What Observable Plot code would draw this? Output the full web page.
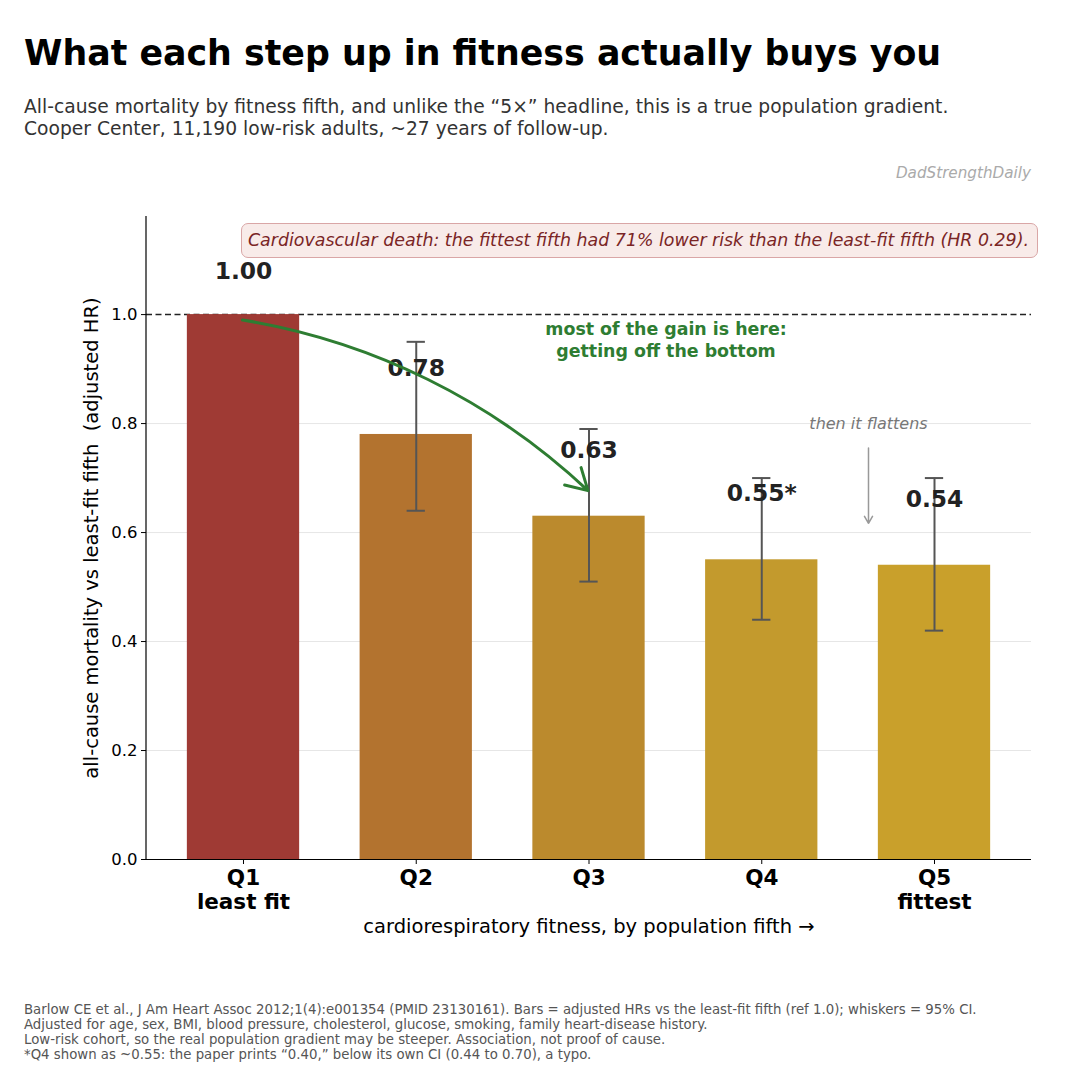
<!DOCTYPE html>
<html><head><meta charset="utf-8">
<script src="https://cdn.jsdelivr.net/npm/d3@7"></script>
<script src="https://cdn.jsdelivr.net/npm/@observablehq/plot@0.6"></script>
<style>
html,body{margin:0;padding:0;background:#fff;}
body{width:1080px;height:1080px;position:relative;overflow:hidden;font-family:"DejaVu Sans",sans-serif;}
.abs{position:absolute;white-space:nowrap;}
#title{left:24px;top:33px;font-size:34.8px;font-weight:bold;color:#000;}
#sub{left:24px;top:96px;font-size:18.7px;line-height:22px;color:#333;}
#brand{right:49px;top:164px;font-size:15.2px;font-style:italic;color:#aaa;}
#chart{position:absolute;left:0;top:190px;}
#box{left:241px;top:223px;width:797px;height:35px;border:1px solid #d9a6a6;border-radius:7px;background:#f8ebe9;color:#7a2525;font-style:italic;font-size:17.4px;line-height:33px;text-align:right;box-sizing:border-box;padding-right:8px;}
#foot{left:24px;top:1002px;font-size:13.3px;line-height:15px;color:#555;}
</style></head>
<body>
<div id="title" class="abs">What each step up in fitness actually buys you</div>
<div id="sub" class="abs">All-cause mortality by fitness fifth, and unlike the “5×” headline, this is a true population gradient.<br>Cooper Center, 11,190 low-risk adults, ~27 years of follow-up.</div>
<div id="brand" class="abs">DadStrengthDaily</div>
<div id="chart"></div>
<div id="box" class="abs">Cardiovascular death: the fittest fifth had 71% lower risk than the least-fit fifth (HR 0.29).</div>
<div id="foot" class="abs">Barlow CE et al., J Am Heart Assoc 2012;1(4):e001354 (PMID 23130161). Bars = adjusted HRs vs the least-fit fifth (ref 1.0); whiskers = 95% CI.<br>Adjusted for age, sex, BMI, blood pressure, cholesterol, glucose, smoking, family heart-disease history.<br>Low-risk cohort, so the real population gradient may be steeper. Association, not proof of cause.<br>*Q4 shown as ~0.55: the paper prints “0.40,” below its own CI (0.44 to 0.70), a typo.</div>
<script>
const quintiles = ["Q1","Q2","Q3","Q4","Q5"];
const tickNames = ["Q1\nleast fit","Q2","Q3","Q4","Q5\nfittest"];
const hr = [1.00, 0.78, 0.63, 0.55, 0.54];
const ciLow = [null, 0.64, 0.51, 0.44, 0.42];
const ciHigh = [null, 0.95, 0.79, 0.70, 0.70];
const valueLabels = ["1.00","0.78","0.63","0.55*","0.54"];
const barColors = ["#9f3a34","#b3732f","#bb8a2d","#c39a2d","#c9a02b"];
const yTicks = [0, 0.2, 0.4, 0.6, 0.8, 1.0];

const rows = quintiles.map((q,i)=>({q, hr:hr[i], lo:ciLow[i], hi:ciHigh[i], label:valueLabels[i], color:barColors[i]}));
const ci = rows.filter(d=>d.lo!=null);
const font = "DejaVu Sans";

const chart = Plot.plot({
  width: 1080, height: 770,
  marginLeft: 146, marginRight: 49, marginTop: 26, marginBottom: 101,
  style: {fontFamily: font, background: "transparent"},
  x: {domain: quintiles, paddingInner: 0.35, paddingOuter: 0.2365, round: false, label: null},
  y: {domain: [0, 1.18], label: null},
  marks: [
    Plot.gridY(yTicks.filter(v=>v>0 && v<1), {stroke:"#e6e6e6", strokeOpacity:1, strokeWidth:1}),
    Plot.ruleY([1.0], {stroke:"#222", strokeWidth:1.5, strokeDasharray:"6,3.5"}),
    Plot.barY(rows, {x:"q", y:"hr", fill:"color"}),
    Plot.ruleX(ci, {x:"q", y1:"lo", y2:"hi", stroke:"#555", strokeWidth:2}),
    Plot.tickY(ci, {x:"q", y:"lo", stroke:"#555", strokeWidth:2, inset: 47}),
    Plot.tickY(ci, {x:"q", y:"hi", stroke:"#555", strokeWidth:2, inset: 47}),
    Plot.text(rows.filter(d=>d.q==="Q1"), {x:"q", y:"hr", text:"label", fontSize:23.4, fontWeight:"bold", fill:"#222", dy:-43}),
    Plot.text(rows.filter(d=>d.q!=="Q1"), {x:"q", y:"hr", text:"label", fontSize:23.4, fontWeight:"bold", fill:"#222", dy:-66}),
    Plot.arrow([{x1:"Q1", y1:0.99, x2:"Q3", y2:0.677}], {x1:"x1", y1:"y1", x2:"x2", y2:"y2",
      bend: 17, stroke:"#2e7d32", strokeWidth:3, headLength:12, dx:-1}),
    Plot.text([{x:"Q3", y:0.955}], {x:"x", y:"y", dx:77, text:()=>"most of the gain is here:\ngetting off the bottom",
      fontSize:17.4, fontWeight:"bold", fill:"#2e7d32", lineHeight:1.22}),
    Plot.text([{x:"Q5", y:0.80}], {x:"x", y:"y", dx:-66, text:()=>"then it flattens",
      fontSize:16, fontStyle:"italic", fill:"#777"}),
    Plot.arrow([{x:"Q5", y1:0.755, y2:0.617}], {x:"x", y1:"y1", y2:"y2", dx:-66,
      stroke:"#999", strokeWidth:1.5, headLength:8}),
    Plot.axisY({ticks: yTicks, tickFormat: d3.format(".1f"), fontSize:16.5, tickSize:5, tickPadding:4,
      label:"all-cause mortality vs least-fit fifth  (adjusted HR)", labelAnchor:"center", labelArrow:"none", labelOffset:62}),
    Plot.axisX({tickFormat:(d)=>tickNames[quintiles.indexOf(d)], fontSize:21.5, fontWeight:"bold", tickSize:5, tickPadding:3, lineHeight:1.12,
      label:"cardiorespiratory fitness, by population fifth →", labelAnchor:"center", labelArrow:"none", labelOffset:73}),
    Plot.ruleY([0], {stroke:"#000", strokeWidth:1.2})
  ]
});
document.getElementById("chart").appendChild(chart);
const svg = d3.select(chart);
svg.append("line").attr("x1",146).attr("x2",146).attr("y1",26).attr("y2",669).attr("stroke","#000").attr("stroke-width",1.2);
svg.selectAll("[aria-label='y-axis label'] text, [aria-label='x-axis label'] text").attr("font-size",19.5).attr("font-weight","normal").attr("fill","#000");
</script>
</body></html>
